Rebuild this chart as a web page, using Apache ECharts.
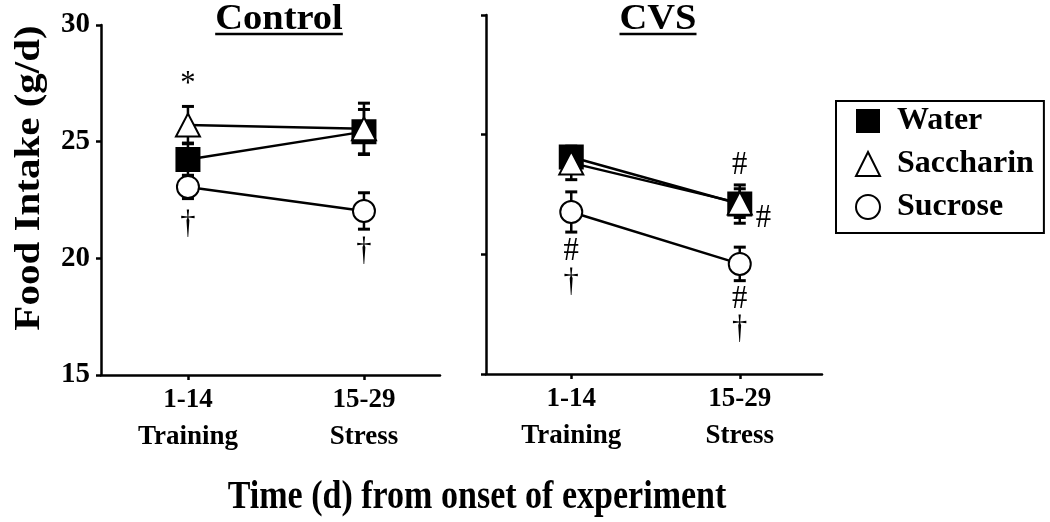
<!DOCTYPE html>
<html>
<head>
<meta charset="utf-8">
<script src="https://cdn.jsdelivr.net/npm/echarts@6/dist/echarts.min.js"></script>
<style>
html,body{margin:0;padding:0;background:#fff;}
#c{width:1050px;height:522px;}
</style>
</head>
<body>
<div id="c"></div>
<script>
// ---------- data ----------
const categories = ['1-14\nTraining', '15-29\nStress'];
const panelTitles = ['Control', 'CVS'];
const seriesNames = ['Water', 'Saccharin', 'Sucrose'];
const yTickValues = [15, 20, 25, 30];

// group means (g/d)
const controlWater = [24.24, 25.43];
const controlSaccharin = [25.71, 25.55];
const controlSucrose = [23.06, 22.03];
const cvsWater = [24.07, 22.10];
const cvsSaccharin = [23.82, 22.14];
const cvsSucrose = [21.77, 19.60];

// error (SEM)
const controlWaterErr = [0.7, 0.95];
const controlSaccharinErr = [0.8, 1.1];
const controlSucroseErr = [0.5, 0.78];
const cvsWaterErr = [0.35, 0.8];
const cvsSaccharinErr = [0.7, 0.6];
const cvsSucroseErr = [0.84, 0.7];

// significance marks: [text, x position (category index), y value]
const controlMarks = [['*', 0, 27.45], ['\u2020', 0, 21.45], ['\u2020', 1, 20.3]];
const cvsMarks = [['#', 1, 23.73], ['#', 1.14, 21.52], ['#', 0, 20.14], ['\u2020', 0, 18.84], ['#', 1, 18.13], ['\u2020', 1, 16.88]];

// ---------- build ----------
const FONT = "'Liberation Serif','Times New Roman',serif";
const panels = [
  {means: [controlWater, controlSaccharin, controlSucrose], errs: [controlWaterErr, controlSaccharinErr, controlSucroseErr], marks: controlMarks},
  {means: [cvsWater, cvsSaccharin, cvsSucrose], errs: [cvsWaterErr, cvsSaccharinErr, cvsSucroseErr], marks: cvsMarks}
];
const symbols = ['rect', 'triangle', 'circle'];
const symbolSizes = [23, [24, 23], 22];
const fills = ['#000', '#fff', '#fff'];

function errRender(params, api) {
  const x = api.value(0), lo = api.value(1), hi = api.value(2);
  const t = api.coord([x, hi]), b = api.coord([x, lo]);
  const cap = 6;
  const st = {stroke: '#000', lineWidth: 2.5};
  return {type: 'group', children: [
    {type: 'line', shape: {x1: t[0], y1: t[1], x2: b[0], y2: b[1]}, style: st},
    {type: 'line', shape: {x1: t[0] - cap, y1: t[1], x2: t[0] + cap, y2: t[1]}, style: {stroke: '#000', lineWidth: 3}},
    {type: 'line', shape: {x1: b[0] - cap, y1: b[1], x2: b[0] + cap, y2: b[1]}, style: {stroke: '#000', lineWidth: 3}}
  ]};
}

const series = [];
panels.forEach((p, pi) => {
  p.means.forEach((m, si) => {
    series.push({
      type: 'custom', name: seriesNames[si] + ' err', xAxisIndex: pi, yAxisIndex: pi, z: 1,
      renderItem: errRender, encode: {x: 0, y: [1, 2]}, silent: true,
      data: m.map((v, i) => [i, v - p.errs[si][i], v + p.errs[si][i]])
    });
  });
  p.means.forEach((m, si) => {
    series.push({
      type: 'line', name: seriesNames[si], xAxisIndex: pi, yAxisIndex: pi, z: 2 + si,
      data: m.map((v, i) => [i, v]),
      symbol: symbols[si], symbolSize: symbolSizes[si], showAllSymbol: true,
      lineStyle: {color: '#000', width: 2.5},
      itemStyle: {color: fills[si], borderColor: '#000', borderWidth: 2},
      animation: false
    });
  });
  const mk = p.marks;
  series.push({
    type: 'custom', name: 'marks' + pi, xAxisIndex: pi, yAxisIndex: pi, z: 10, silent: true,
    encode: {x: 0, y: 1},
    data: mk.map(d => [d[1], d[2]]),
    renderItem: function (params, api) {
      const c = api.coord([api.value(0), api.value(1)]);
      return {type: 'text', x: c[0], y: c[1], scaleX: 0.9, style: {
        text: mk[params.dataIndex][0], fill: '#000', align: 'center', verticalAlign: 'middle',
        fontSize: 34, fontFamily: FONT, fontWeight: 'normal'}};
    }
  });
});

function xAxis(gi, min, max) {
  return {type: 'value', gridIndex: gi, min: min, max: max,
    axisLine: {show: true, onZero: false, lineStyle: {color: '#000', width: 2.5}}, splitLine: {show: false},
    axisTick: {show: true, customValues: [0, 1], length: 5, lineStyle: {color: '#000', width: 2.5}},
    axisLabel: {customValues: [0, 1], formatter: v => categories[Math.round(v)], color: '#000',
      fontFamily: FONT, fontWeight: 'bold', fontSize: 27, lineHeight: 37, margin: 7}};
}
function yAxis(gi, showLabel) {
  return {type: 'value', gridIndex: gi, min: yTickValues[0], max: yTickValues[yTickValues.length - 1], interval: 5,
    axisLine: {show: true, onZero: false, lineStyle: {color: '#000', width: 2.5}}, splitLine: {show: false},
    axisTick: {show: true, length: 5, lineStyle: {color: '#000', width: 2.5}},
    axisLabel: {show: showLabel, color: '#000', fontFamily: FONT, fontWeight: 'bold', fontSize: 29, margin: 11}};
}

// title helpers (text + underline)
const mctx = document.createElement('canvas').getContext('2d');
function titleGraphic(text, cx, cy, size, sx) {
  mctx.font = 'bold ' + size + 'px ' + FONT;
  const w = mctx.measureText(text).width * sx;
  return [
    {type: 'text', x: cx, y: cy, scaleX: sx, style: {text: text, fill: '#000', align: 'center', verticalAlign: 'middle',
      fontSize: size, fontWeight: 'bold', fontFamily: FONT}},
    {type: 'line', shape: {x1: cx - w / 2, y1: cy + 14, x2: cx + w / 2, y2: cy + 14}, style: {stroke: '#000', lineWidth: 2.5}}
  ];
}

const option = {
  backgroundColor: '#fff',
  animation: false,
  grid: [
    {left: 101, top: 25, width: 339, height: 350},
    {left: 486, top: 15, width: 336, height: 359}
  ],
  xAxis: [xAxis(0, -0.494, 1.432), xAxis(1, -0.506, 1.488)],
  yAxis: [yAxis(0, true), yAxis(1, false)],
  legend: {
    left: 836, top: 101, orient: 'vertical',
    data: [
      {name: 'Water', icon: 'rect', itemStyle: {color: '#000', borderColor: '#000', borderWidth: 0}},
      {name: 'Saccharin', icon: 'triangle', itemStyle: {color: '#fff', borderColor: '#000', borderWidth: 2}},
      {name: 'Sucrose', icon: 'circle', itemStyle: {color: '#fff', borderColor: '#000', borderWidth: 2}}
    ],
    itemWidth: 24, itemHeight: 24, itemGap: 11,
    padding: [4, 10, 10, 19],
    borderColor: '#000', borderWidth: 2,
    textStyle: {fontSize: 32, fontWeight: 'bold', fontFamily: FONT, color: '#000', padding: [0, 0, 0, 12]},
    selectedMode: false
  },
  graphic: [
    ...titleGraphic(panelTitles[0], 279, 20, 35, 1.1),
    ...titleGraphic(panelTitles[1], 658, 20, 35, 1.1),
    {type: 'text', x: 30, y: 178, rotation: Math.PI / 2, scaleY: 0.85,
      style: {text: 'Food Intake (g/d)', fill: '#000', align: 'center', verticalAlign: 'middle',
        fontSize: 41, fontWeight: 'bold', fontFamily: FONT}},
    {type: 'text', x: 477, y: 497, scaleX: 0.83,
      style: {text: 'Time (d) from onset of experiment', fill: '#000', align: 'center', verticalAlign: 'middle',
        fontSize: 41, fontWeight: 'bold', fontFamily: FONT}}
  ],
  series: series
};

const chart = echarts.init(document.getElementById('c'), null, {renderer: 'canvas'});
chart.setOption(option);
</script>
</body>
</html>
